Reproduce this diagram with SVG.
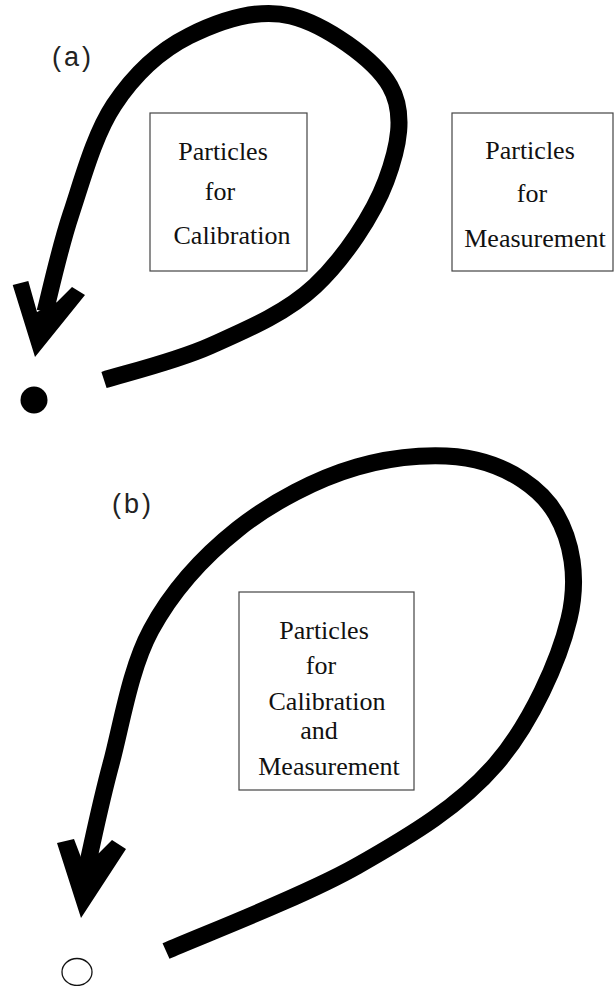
<svg xmlns="http://www.w3.org/2000/svg" width="615" height="986" viewBox="0 0 615 986">
<style>
.box{fill:none;stroke:#444;stroke-width:1.2}
.t{font-family:"Liberation Serif","Times New Roman",serif;font-size:26px;fill:#111;text-anchor:middle}
.lbl{font-family:"Liberation Sans",Arial,sans-serif;font-size:27px;fill:#222;letter-spacing:3px}
.flow{fill:none;stroke:#000;stroke-width:17}
.head{fill:#000}
</style>
<rect width="615" height="986" fill="#fff"/>
<text class="lbl" x="52" y="66">(a)</text>
<text class="lbl" x="112" y="513">(b)</text>
<g id="calib">
<rect class="box" x="150" y="113" width="157" height="158"/>
<text class="t" x="223" y="160">Particles</text>
<text class="t" x="220" y="200">for</text>
<text class="t" x="232" y="244">Calibration</text>
</g>
<g id="meas">
<rect class="box" x="452" y="113" width="161" height="158"/>
<text class="t" x="530" y="159">Particles</text>
<text class="t" x="532" y="202">for</text>
<text class="t" x="535" y="247">Measurement</text>
</g>
<g id="both">
<rect class="box" x="239" y="592" width="175" height="198"/>
<text class="t" x="324" y="639">Particles</text>
<text class="t" x="321" y="674">for</text>
<text class="t" x="327" y="710">Calibration</text>
<text class="t" x="319" y="739">and</text>
<text class="t" x="329" y="775">Measurement</text>
</g>
<g id="dot-a"><circle cx="34" cy="400" r="13.5" fill="#000"/></g>
<g id="dot-b"><ellipse cx="77" cy="972" rx="15" ry="13.5" fill="none" stroke="#111" stroke-width="1.3"/></g>
<g id="connectors">
<path class="flow" d="M104,380 C121.7,374.3 174.8,361.7 210,346 C245.2,330.3 285.7,313.5 315,286 C344.3,258.5 373.5,214.3 386,181 C398.5,147.7 405.8,113.5 390,86 C374.2,58.5 324.5,24.3 291,16 C257.5,7.7 218.5,21.2 189,36 C159.5,50.8 133.7,75.3 114,105 C94.3,134.7 82.5,179.5 71,214 C59.5,248.5 49.3,295.7 45,312"/>
<polygon class="head" points="12.7,285 28.3,281 37,312 57,302 72,287 85,295 35,357"/>
<path class="flow" d="M166,951 C197.8,936.8 302,897.2 357,866 C412,834.8 460.7,805.2 496,764 C531.3,722.8 559,660.7 569,619 C579,577.3 571.5,540.5 556,514 C540.5,487.5 509.2,467.8 476,460 C442.8,452.2 396.7,455.5 357,467 C317.3,478.5 272.3,501.8 238,529 C203.7,556.2 172.2,590.8 151,630 C129.8,669.2 121.5,725.3 111,764 C100.5,802.7 91.8,845.7 88,862"/>
<polygon class="head" points="57,843 74,839 82,860 99,853 112,840 126,849 81,918"/>
</g>
</svg>
